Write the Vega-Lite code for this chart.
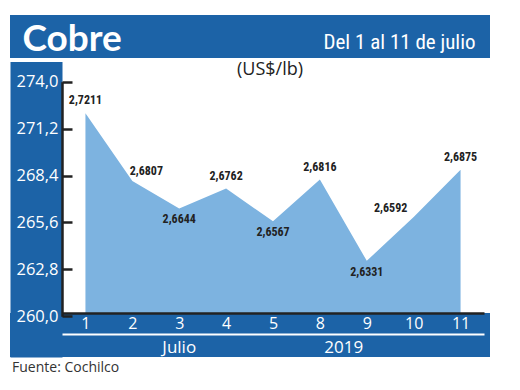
{
  "$schema": "https://vega.github.io/schema/vega-lite/v6.json",
  "width": 480,
  "height": 342,
  "autosize": {"type": "none"},
  "padding": {"left": 10, "top": 15, "right": 30, "bottom": 33},
  "background": "white",
  "config": {
    "view": {"stroke": null},
    "locale": {"number": {"decimal": ",", "thousands": ".", "grouping": [3], "currency": ["US$", ""]}}
  },
  "datasets": {
    "cobre": [
      {"dia": "1", "precio": 2.7211},
      {"dia": "2", "precio": 2.6807},
      {"dia": "3", "precio": 2.6644},
      {"dia": "4", "precio": 2.6762},
      {"dia": "5", "precio": 2.6567},
      {"dia": "8", "precio": 2.6816},
      {"dia": "9", "precio": 2.6331},
      {"dia": "10", "precio": 2.6592},
      {"dia": "11", "precio": 2.6875}
    ]
  },
  "data": {"name": "cobre"},
  "resolve": {"scale": {"y": "independent"}, "axis": {"x": "independent", "y": "independent"}},
  "layer": [
    {
      "data": {"values": [{}]},
      "mark": {"type": "rect", "color": "#1c63a7"},
      "encoding": {
        "y": {"datum": 2.7798, "type": "quantitative", "scale": {"domain": [2.57571, 2.7798], "nice": false, "zero": false},
          "axis": {"orient": "left", "offset": -26, "domainColor": "#1c63a7", "domainWidth": 52, "labels": false, "ticks": false, "grid": false, "title": null, "zindex": 0}},
        "y2": {"datum": 2.75414}
      }
    },
    {
      "data": {"values": [{}]},
      "mark": {"type": "rect", "color": "white"},
      "encoding": {
        "y": {"datum": 2.75414, "type": "quantitative", "scale": {"domain": [2.57571, 2.7798], "nice": false, "zero": false}, "axis": null},
        "y2": {"datum": 2.75175}
      }
    },
    {
      "data": {"values": [{}]},
      "mark": {"type": "text", "text": "Cobre", "align": "left", "baseline": "alphabetic", "font": "Lato", "fontWeight": "bold", "fontSize": 37, "color": "white", "dx": -63},
      "encoding": {
        "x": {"datum": "1", "type": "ordinal", "scale": {"domain": ["1","2","3","4","5","8","9","10","11"], "range": [52, 474], "padding": 0.5}, "axis": null},
        "y": {"datum": 2.75832, "type": "quantitative", "scale": {"domain": [2.57571, 2.7798], "nice": false, "zero": false}, "axis": null}
      }
    },
    {
      "data": {"values": [{}]},
      "mark": {"type": "text", "text": "Del 1 al 11 de julio", "align": "right", "baseline": "alphabetic", "font": "Roboto Condensed, Liberation Sans Narrow, Roboto", "fontSize": 21, "color": "white", "dx": 15},
      "encoding": {
        "x": {"datum": "11", "type": "ordinal", "scale": {"domain": ["1","2","3","4","5","8","9","10","11"], "range": [52, 474], "padding": 0.5}, "axis": null},
        "y": {"datum": 2.7598, "type": "quantitative", "scale": {"domain": [2.57571, 2.7798], "nice": false, "zero": false}, "axis": null}
      }
    },
    {
      "data": {"values": [{}]},
      "mark": {"type": "text", "text": "(US$/lb)", "align": "center", "baseline": "middle", "font": "Open Sans", "fontSize": 18, "color": "#222", "dx": -3},
      "encoding": {
        "x": {"datum": "5", "type": "ordinal", "scale": {"domain": ["1","2","3","4","5","8","9","10","11"], "range": [52, 474], "padding": 0.5}, "axis": null},
        "y": {"datum": 2.74698, "type": "quantitative", "scale": {"domain": [2.57571, 2.7798], "nice": false, "zero": false}, "axis": null}
      }
    },
    {
      "data": {"values": [{}]},
      "mark": {"type": "text", "text": "Fuente: Cochilco", "align": "left", "baseline": "middle", "font": "Open Sans", "fontSize": 14, "color": "#333", "dx": -73.4},
      "encoding": {
        "x": {"datum": "1", "type": "ordinal", "scale": {"domain": ["1","2","3","4","5","8","9","10","11"], "range": [52, 474], "padding": 0.5}, "axis": null},
        "y": {"datum": 2.56914, "type": "quantitative", "scale": {"domain": [2.57571, 2.7798], "nice": false, "zero": false}, "axis": null}
      }
    },
    {
      "mark": {"type": "area", "color": "#7db3e0", "opacity": 1},
      "encoding": {
        "x": {"field": "dia", "type": "ordinal", "scale": {"domain": ["1","2","3","4","5","8","9","10","11"], "range": [52, 474], "padding": 0.5},
          "axis": {"orient": "bottom", "offset": -44, "domainColor": "#222", "domainWidth": 2.5, "ticks": false, "labelColor": "white", "labelFont": "Open Sans", "labelFontSize": 16, "labelPadding": 2, "labelAngle": 0, "title": null, "grid": false, "zindex": 1}},
        "y": {"field": "precio", "type": "quantitative", "scale": {"domain": [2.6, 2.74], "range": [301.3, 66.7], "nice": false, "zero": false},
          "axis": {"orient": "left", "offset": -52, "values": [2.6, 2.628, 2.656, 2.684, 2.712, 2.74], "labelExpr": "replace(format(datum.value*100, '.1f'), '.', ',')", "labelColor": "white", "labelFont": "Open Sans", "labelFontSize": 16.5, "labelPadding": 14, "domainColor": "#222", "domainWidth": 2.5, "tickColor": "#222", "tickWidth": 2.5, "tickSize": -10, "grid": false, "title": null, "zindex": 1}},
        "y2": {"datum": 2.6}
      }
    },
    {
      "transform": [{"filter": {"field": "dia", "oneOf": ["1", "4", "8", "11"]}}],
      "mark": {"type": "text", "baseline": "middle", "align": "center", "font": "Roboto Condensed, Liberation Sans Narrow, Roboto", "fontWeight": "bold", "fontSize": 12, "color": "#222", "dy": -13},
      "encoding": {
        "x": {"field": "dia", "type": "ordinal", "scale": {"domain": ["1","2","3","4","5","8","9","10","11"], "range": [52, 474], "padding": 0.5}, "axis": null},
        "y": {"field": "precio", "type": "quantitative", "scale": {"domain": [2.6, 2.74], "range": [301.3, 66.7], "nice": false, "zero": false}, "axis": null},
        "text": {"field": "precio", "type": "quantitative", "format": ".4f"}
      }
    },
    {
      "transform": [{"filter": {"field": "dia", "oneOf": ["3", "5", "9"]}}],
      "mark": {"type": "text", "baseline": "middle", "align": "center", "font": "Roboto Condensed, Liberation Sans Narrow, Roboto", "fontWeight": "bold", "fontSize": 12, "color": "#222", "dy": 11},
      "encoding": {
        "x": {"field": "dia", "type": "ordinal", "scale": {"domain": ["1","2","3","4","5","8","9","10","11"], "range": [52, 474], "padding": 0.5}, "axis": null},
        "y": {"field": "precio", "type": "quantitative", "scale": {"domain": [2.6, 2.74], "range": [301.3, 66.7], "nice": false, "zero": false}, "axis": null},
        "text": {"field": "precio", "type": "quantitative", "format": ".4f"}
      }
    },
    {
      "transform": [{"filter": {"field": "dia", "equal": "2"}}],
      "mark": {"type": "text", "baseline": "middle", "align": "center", "font": "Roboto Condensed, Liberation Sans Narrow, Roboto", "fontWeight": "bold", "fontSize": 12, "color": "#222", "dx": 14, "dy": -10},
      "encoding": {
        "x": {"field": "dia", "type": "ordinal", "scale": {"domain": ["1","2","3","4","5","8","9","10","11"], "range": [52, 474], "padding": 0.5}, "axis": null},
        "y": {"field": "precio", "type": "quantitative", "scale": {"domain": [2.6, 2.74], "range": [301.3, 66.7], "nice": false, "zero": false}, "axis": null},
        "text": {"field": "precio", "type": "quantitative", "format": ".4f"}
      }
    },
    {
      "transform": [{"filter": {"field": "dia", "equal": "10"}}],
      "mark": {"type": "text", "baseline": "middle", "align": "center", "font": "Roboto Condensed, Liberation Sans Narrow, Roboto", "fontWeight": "bold", "fontSize": 12, "color": "#222", "dx": -23, "dy": -9},
      "encoding": {
        "x": {"field": "dia", "type": "ordinal", "scale": {"domain": ["1","2","3","4","5","8","9","10","11"], "range": [52, 474], "padding": 0.5}, "axis": null},
        "y": {"field": "precio", "type": "quantitative", "scale": {"domain": [2.6, 2.74], "range": [301.3, 66.7], "nice": false, "zero": false}, "axis": null},
        "text": {"field": "precio", "type": "quantitative", "format": ".4f"}
      }
    },
    {
      "data": {"values": [{}]},
      "mark": {"type": "rect", "color": "#1c63a7"},
      "encoding": {
        "y": {"datum": 2.60196, "type": "quantitative", "scale": {"domain": [2.57571, 2.7798], "nice": false, "zero": false}, "axis": null},
        "y2": {"datum": 2.57571}
      }
    },
    {
      "data": {"values": [{}]},
      "mark": {"type": "text", "text": "Julio", "align": "center", "baseline": "middle", "font": "Open Sans", "fontSize": 17, "color": "white"},
      "encoding": {
        "x": {"datum": "3", "type": "ordinal", "scale": {"domain": ["1","2","3","4","5","8","9","10","11"], "range": [52, 474], "padding": 0.5},
          "axis": {"orient": "bottom", "offset": -23, "domainColor": "white", "domainWidth": 2, "labels": false, "ticks": false, "grid": false, "title": null, "zindex": 1}},
        "y": {"datum": 2.58108, "type": "quantitative", "scale": {"domain": [2.57571, 2.7798], "nice": false, "zero": false}, "axis": null}
      }
    },
    {
      "data": {"values": [{}]},
      "mark": {"type": "text", "text": "2019", "align": "center", "baseline": "middle", "font": "Open Sans", "fontSize": 17, "color": "white", "dx": -23},
      "encoding": {
        "x": {"datum": "9", "type": "ordinal", "scale": {"domain": ["1","2","3","4","5","8","9","10","11"], "range": [52, 474], "padding": 0.5}, "axis": null},
        "y": {"datum": 2.58108, "type": "quantitative", "scale": {"domain": [2.57571, 2.7798], "nice": false, "zero": false}, "axis": null}
      }
    }
  ]
}
